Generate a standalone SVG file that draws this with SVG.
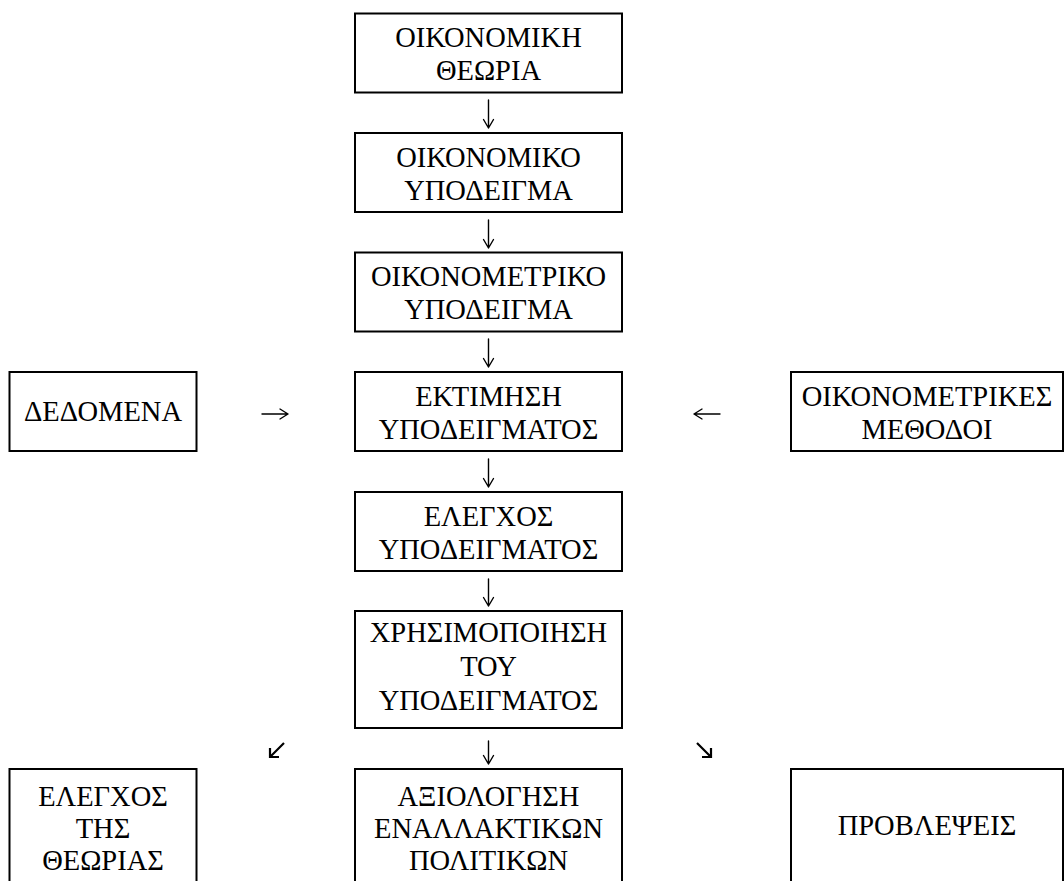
<svg xmlns="http://www.w3.org/2000/svg" width="1064" height="881" viewBox="0 0 1064 881">
<style>
.box{fill:#fff;stroke:#000;stroke-width:2}
.t{font-family:"Liberation Serif","Times New Roman",serif;font-size:28.5px;fill:#000;text-anchor:middle}
.c{fill:none;stroke:#000;stroke-width:1.4;stroke-linecap:round;stroke-linejoin:round}
.d{fill:none;stroke:#000;stroke-width:2.2;stroke-linecap:butt;stroke-linejoin:miter}
</style>
<rect width="1064" height="881" fill="#fff"/>
<g id="n1"><rect class="box" x="355" y="13.5" width="267" height="79"/><text class="t" x="488.5" y="47">ΟΙΚΟΝΟΜΙΚΗ</text><text class="t" x="488.5" y="80">ΘΕΩΡΙΑ</text></g>
<g id="n2"><rect class="box" x="355" y="133" width="267" height="79"/><text class="t" x="488.5" y="166.5">ΟΙΚΟΝΟΜΙΚΟ</text><text class="t" x="488.5" y="199.5">ΥΠΟΔΕΙΓΜΑ</text></g>
<g id="n3"><rect class="box" x="355" y="252.5" width="267" height="79"/><text class="t" x="488.5" y="286">ΟΙΚΟΝΟΜΕΤΡΙΚΟ</text><text class="t" x="488.5" y="319">ΥΠΟΔΕΙΓΜΑ</text></g>
<g id="n4"><rect class="box" x="355" y="372" width="267" height="79"/><text class="t" x="488.5" y="405.5">ΕΚΤΙΜΗΣΗ</text><text class="t" x="488.5" y="438.5">ΥΠΟΔΕΙΓΜΑΤΟΣ</text></g>
<g id="n5"><rect class="box" x="355" y="492" width="267" height="79"/><text class="t" x="488.5" y="525.5">ΕΛΕΓΧΟΣ</text><text class="t" x="488.5" y="558.5">ΥΠΟΔΕΙΓΜΑΤΟΣ</text></g>
<g id="n6"><rect class="box" x="355" y="611" width="267" height="117"/><text class="t" x="488.5" y="642">ΧΡΗΣΙΜΟΠΟΙΗΣΗ</text><text class="t" x="488.5" y="676">ΤΟΥ</text><text class="t" x="488.5" y="710">ΥΠΟΔΕΙΓΜΑΤΟΣ</text></g>
<g id="n_data"><rect class="box" x="9.5" y="372" width="187" height="79"/><text class="t" x="103" y="421">ΔΕΔΟΜΕΝΑ</text></g>
<g id="n_methods"><rect class="box" x="791" y="372" width="272" height="79"/><text class="t" x="927" y="405.5">ΟΙΚΟΝΟΜΕΤΡΙΚΕΣ</text><text class="t" x="927" y="438.5">ΜΕΘΟΔΟΙ</text></g>
<g id="n_theory"><rect class="box" x="9.5" y="769" width="187" height="200"/><text class="t" x="103" y="806">ΕΛΕΓΧΟΣ</text><text class="t" x="103" y="838">ΤΗΣ</text><text class="t" x="103" y="870">ΘΕΩΡΙΑΣ</text></g>
<g id="n_policy"><rect class="box" x="355" y="769" width="267" height="200"/><text class="t" x="488.5" y="806">ΑΞΙΟΛΟΓΗΣΗ</text><text class="t" x="488.5" y="838">ΕΝΑΛΛΑΚΤΙΚΩΝ</text><text class="t" x="488.5" y="870">ΠΟΛΙΤΙΚΩΝ</text></g>
<g id="n_forecast"><rect class="box" x="791" y="769" width="272" height="200"/><text class="t" x="927" y="835">ΠΡΟΒΛΕΨΕΙΣ</text></g>
<g id="connectors">
<path class="c" d="M488.5 100V128M483.5 119.5L488.5 128L493.5 119.5"/>
<path class="c" d="M488.5 220V248M483.5 239.5L488.5 248L493.5 239.5"/>
<path class="c" d="M488.5 339V367M483.5 358.5L488.5 367L493.5 358.5"/>
<path class="c" d="M488.5 459V487M483.5 478.5L488.5 487L493.5 478.5"/>
<path class="c" d="M488.5 579V606M483.5 597.5L488.5 606L493.5 597.5"/>
<path class="c" d="M488.5 741V764M483.5 755.5L488.5 764L493.5 755.5"/>
<path class="c" d="M262 414H288M280 409L288 414L280 419"/>
<path class="c" d="M694 414H720M702 409L694 414L702 419"/>
<path class="d" d="M284 743L270 757M270 748V757H279"/>
<path class="d" d="M697 743L711 757M702 757H711V748"/>
</g>
</svg>
